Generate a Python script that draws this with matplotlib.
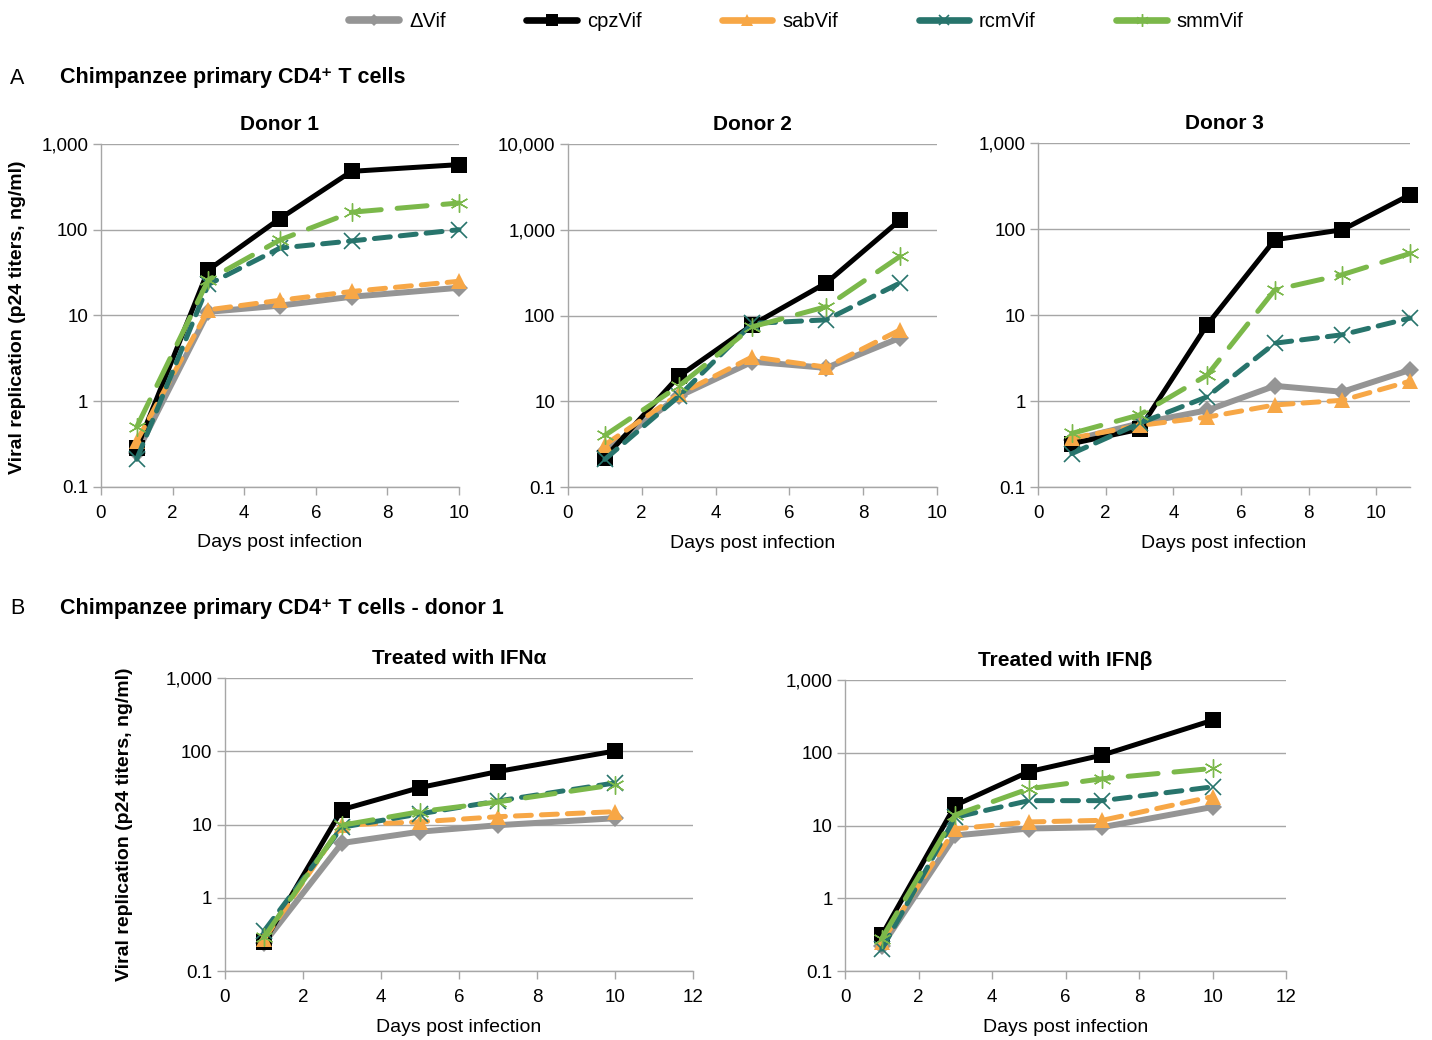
import matplotlib
matplotlib.use("Agg")
import matplotlib.pyplot as plt
from matplotlib.lines import Line2D
from matplotlib.ticker import FixedLocator, FuncFormatter

plt.rcParams["font.family"] = ["Liberation Sans", "DejaVu Sans"]

# ---- data ----
series_names = ["\u0394Vif", "cpzVif", "sabVif", "rcmVif", "smmVif"]

donor1_days = [1, 3, 5, 7, 10]
donor1 = {
    "\u0394Vif": [0.25, 11, 13, 16.5, 21],
    "cpzVif": [0.28, 34, 135, 480, 575],
    "sabVif": [0.34, 11.6, 15, 19, 25],
    "rcmVif": [0.21, 23, 61, 74, 100],
    "smmVif": [0.5, 26, 76, 160, 205],
}

# donor 2 values are on the axis as labelled in the reference (10 .. 10,000 gridlines)
donor2_days = [1, 3, 5, 7, 9]
donor2 = {
    "\u0394Vif": [2.6, 11.4, 29, 24.5, 55],
    "cpzVif": [2.2, 19.5, 78, 240, 1300],
    "sabVif": [3.1, 12, 33, 25, 68],
    "rcmVif": [2.1, 11.4, 81, 89, 240],
    "smmVif": [4.0, 15, 74, 127, 490],
}

donor3_days = [1, 3, 5, 7, 9, 11]
donor3 = {
    "\u0394Vif": [0.35, 0.55, 0.78, 1.5, 1.28, 2.3],
    "cpzVif": [0.32, 0.47, 7.7, 75, 98, 250],
    "sabVif": [0.37, 0.52, 0.65, 0.9, 1.02, 1.7],
    "rcmVif": [0.245, 0.55, 1.12, 4.7, 5.9, 9.2],
    "smmVif": [0.42, 0.69, 2.0, 19.6, 29.5, 52],
}

ifn_days = [1, 3, 5, 7, 10]
ifna = {
    "\u0394Vif": [0.24, 5.6, 8.0, 9.8, 12.2],
    "cpzVif": [0.25, 16, 32, 53, 101],
    "sabVif": [0.27, 9.8, 10.9, 12.8, 15],
    "rcmVif": [0.35, 9.2, 14, 21, 37],
    "smmVif": [0.29, 9.8, 15, 20.4, 35],
}
ifnb = {
    "\u0394Vif": [0.22, 7.3, 9.1, 9.5, 18],
    "cpzVif": [0.31, 19, 55, 93, 280],
    "sabVif": [0.25, 9, 11.2, 11.8, 25],
    "rcmVif": [0.2, 13, 22, 22, 34],
    "smmVif": [0.28, 14, 32, 44, 61],
}

styles = {
    "\u0394Vif": dict(color="#959595", lw=4.3, ls="-", marker="D", ms=9, mew=0),
    "cpzVif": dict(color="#000000", lw=3.6, ls="-", marker="s", ms=12, mew=0),
    "sabVif": dict(color="#f7a746", lw=3.6, ls=(0, (3.2, 2.0)), marker="^", ms=12, mew=0),
    "rcmVif": dict(color="#27746c", lw=3.6, ls=(0, (3.2, 2.0)), marker="x", ms=11, mew=1.2),
    "smmVif": dict(color="#7bb84a", lw=3.6, ls=(0, (6.0, 3.2)), marker=(6, 2, 0), ms=13, mew=1.0),
}

GRID = "#a6a6a6"


def fmt_tick(v, _pos=None):
    if v < 1:
        return f"{v:g}"
    return f"{v:,.0f}"


def style_axes(ax, xmax, ymin, ymax, ticklabels=None):
    ax.set_yscale("log")
    ax.set_xlim(0, xmax)
    ax.set_ylim(ymin, ymax)
    ax.set_xticks(range(0, xmax + 1, 2))
    decades = []
    v = ymin
    while v <= ymax * 1.001:
        decades.append(v)
        v *= 10
    ax.yaxis.set_major_locator(FixedLocator(decades))
    ax.yaxis.set_minor_locator(FixedLocator([]))
    if ticklabels is None:
        ax.yaxis.set_major_formatter(FuncFormatter(fmt_tick))
    else:
        ax.set_yticklabels(ticklabels)
    ax.grid(axis="y", color=GRID, lw=1.0)
    ax.set_axisbelow(True)
    for side in ("top", "right"):
        ax.spines[side].set_visible(False)
    for side in ("left", "bottom"):
        ax.spines[side].set_color(GRID)
        ax.spines[side].set_linewidth(1.0)
    ax.tick_params(axis="both", colors=GRID, labelcolor="black", labelsize=13.5,
                   length=6, width=1.0)
    ax.tick_params(axis="x", pad=7)
    ax.tick_params(axis="y", pad=3)
    ax.set_xlabel("Days post infection", fontsize=14, labelpad=9)


def draw(ax, days, data):
    for name in series_names:
        st = styles[name]
        ax.plot(days, data[name], color=st["color"], lw=st["lw"], ls=st["ls"],
                marker=st["marker"], ms=st["ms"], mew=st["mew"],
                mec=st["color"], mfc=st["color"], dash_capstyle="round",
                solid_joinstyle="round", clip_on=False)


fig = plt.figure(figsize=(14.32, 10.4), dpi=100)

ax1 = fig.add_axes([0.0705, 0.532, 0.250, 0.3295])
draw(ax1, donor1_days, donor1)
style_axes(ax1, 10, 0.1, 1000)
ax1.set_title("Donor 1", fontsize=15, fontweight="bold", pad=10)

ax2 = fig.add_axes([0.3966, 0.5317, 0.2577, 0.3298])
draw(ax2, donor2_days, donor2)
style_axes(ax2, 10, 1, 10000, ticklabels=["0.1", "10", "100", "1,000", "10,000"])
ax2.set_title("Donor 2", fontsize=15, fontweight="bold", pad=10)

ax3 = fig.add_axes([0.7249, 0.5317, 0.2598, 0.3308])
draw(ax3, donor3_days, donor3)
style_axes(ax3, 11, 0.1, 1000)
ax3.set_xticks(range(0, 11, 2))
ax3.set_title("Donor 3", fontsize=15, fontweight="bold", pad=10)

ax4 = fig.add_axes([0.1571, 0.0663, 0.3268, 0.2817])
draw(ax4, ifn_days, ifna)
style_axes(ax4, 12, 0.1, 1000)
ax4.set_title("Treated with IFN\u03b1", fontsize=15, fontweight="bold", pad=10)

ax5 = fig.add_axes([0.5901, 0.0663, 0.3080, 0.2798])
draw(ax5, ifn_days, ifnb)
style_axes(ax5, 12, 0.1, 1000)
ax5.set_title("Treated with IFN\u03b2", fontsize=15, fontweight="bold", pad=10)

# y labels
fig.text(0.012, 0.695, "Viral replication (p24 titers, ng/ml)", rotation=90,
         ha="center", va="center", fontsize=14, fontweight="bold")
fig.text(0.087, 0.207, "Viral replication (p24 titers, ng/ml)", rotation=90,
         ha="center", va="center", fontsize=14, fontweight="bold")

# panel headings
fig.text(0.007, 0.925, "A", fontsize=15.5, va="center")
fig.text(0.042, 0.925, "Chimpanzee primary CD4\u207a T cells", fontsize=15.5,
         fontweight="bold", va="center")
fig.text(0.007, 0.415, "B", fontsize=15.5, va="center")
fig.text(0.042, 0.415, "Chimpanzee primary CD4\u207a T cells - donor 1", fontsize=15.5,
         fontweight="bold", va="center")

# legend
handles = []
for name in series_names:
    st = styles[name]
    handles.append(Line2D([], [], color=st["color"], lw=st["lw"] + 1.2, ls="-",
                          marker=st["marker"], ms=st["ms"] * 0.7, mew=st["mew"],
                          mec=st["color"], mfc=st["color"], solid_capstyle="round"))
fig.legend(handles, series_names, loc="center", bbox_to_anchor=(0.556, 0.979),
           ncol=5, frameon=False, fontsize=14.5, handlelength=2.5,
           handletextpad=0.5, columnspacing=4.0)

fig.savefig("out.png", dpi=100)
